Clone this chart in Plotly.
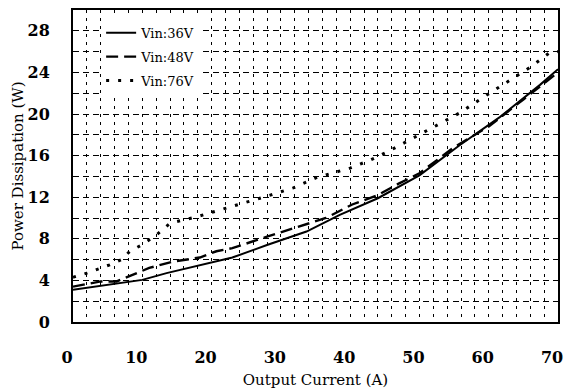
import plotly.graph_objects as go

# Data
x_36 = [0, 6, 10, 13.5, 17.3, 20.7, 23, 28, 33.7, 38.5, 44, 50, 55.8, 61.6, 67.4, 70]
y_36 = [3.1, 3.7, 4.05, 4.7, 5.3, 5.8, 6.2, 7.4, 8.7, 10.3, 11.9, 14.1, 17.0, 19.7, 22.8, 24.3]

x_48 = [0, 4, 6.3, 8.2, 11, 14.4, 18.3, 20.7, 23, 28, 32.8, 36.5, 40.3, 44, 47, 50, 55, 60, 65, 70]
y_48 = [3.4, 3.9, 3.9, 4.4, 5.2, 5.8, 6.2, 6.8, 7.1, 8.2, 9.2, 10.0, 11.3, 12.2, 13.3, 14.3, 16.8, 18.8, 21.4, 24.0]

x_76 = [0, 2, 5.3, 7, 8.2, 9.9, 12.1, 14, 15.9, 17.8, 19.8, 23, 28, 31.8, 35.2, 40, 43, 45.5,
        48.6, 52.2, 55.8, 59.2, 63, 66, 68.8, 70]
y_76 = [4.3, 4.7, 5.5, 6.0, 6.8, 7.4, 8.4, 9.5, 9.8, 10.1, 10.5, 11.1, 12.1, 12.9, 13.9, 14.8, 15.6, 16.4,
        17.5, 18.8, 20.1, 21.6, 23.2, 24.5, 25.9, 26.0]

series_names = ["Vin:36V", "Vin:48V", "Vin:76V"]

x_ticks = [0, 10, 20, 30, 40, 50, 60, 70]
y_ticks = [0, 4, 8, 12, 16, 20, 24, 28]

FONT = "DejaVu Serif, Liberation Serif, serif"

fig = go.Figure()
fig.add_trace(go.Scatter(x=x_36, y=y_36, mode="lines", name=series_names[0], legendgroup="a",
                         line=dict(color="black", width=2, dash="solid")))
fig.add_trace(go.Scatter(x=x_48, y=y_48, mode="lines", name=series_names[1], legendgroup="b",
                         line=dict(color="black", width=2.4, dash="12px,6px")))
fig.add_trace(go.Scatter(x=x_76, y=y_76, mode="lines", name=series_names[2], legendgroup="c",
                         line=dict(color="black", width=3, dash="3px,9px")))

fig.update_layout(
    width=565, height=389,
    margin=dict(l=73, r=7, t=10, b=67, autoexpand=False),
    paper_bgcolor="white", plot_bgcolor="white",
    font=dict(family=FONT, size=16, color="black"),
    showlegend=True,
    legend=dict(x=0.058, y=0.975, xanchor="left", yanchor="top",
                bgcolor="white", borderwidth=0,
                font=dict(family=FONT, size=13, color="black"),
                tracegroupgap=4, itemwidth=30),
)

tick_font = dict(family=FONT, size=16, color="black", weight="bold")

fig.update_xaxes(
    range=[0, 70], tickvals=x_ticks, ticktext=[str(v) for v in x_ticks], tickfont=tick_font,
    ticklabeloverflow="allow", automargin=False, ticklabelshift=-6,
    showline=True, linecolor="black", linewidth=2, mirror=True,
    ticks="", ticklabelstandoff=20,
    showgrid=True, gridcolor="black", gridwidth=1, griddash="3px,5px",
    minor=dict(dtick=2, tick0=0, showgrid=True, gridcolor="black", gridwidth=1, griddash="3px,5px"),
    zeroline=False,
    title=dict(text="Output Current (A)", font=dict(family=FONT, size=15), standoff=15),
)
fig.update_yaxes(
    range=[0, 30], tickvals=y_ticks, ticktext=[str(v) for v in y_ticks], tickfont=tick_font,
    automargin=False,
    showline=True, linecolor="black", linewidth=2, mirror=True,
    ticks="", ticklabelstandoff=18,
    showgrid=True, gridcolor="black", gridwidth=1, griddash="6px,4px",
    minor=dict(dtick=2, tick0=0, showgrid=True, gridcolor="black", gridwidth=1, griddash="6px,4px"),
    zeroline=False,
    title=dict(text="Power Dissipation (W)", font=dict(family=FONT, size=15), standoff=0),
)

fig.write_html("out.html")
